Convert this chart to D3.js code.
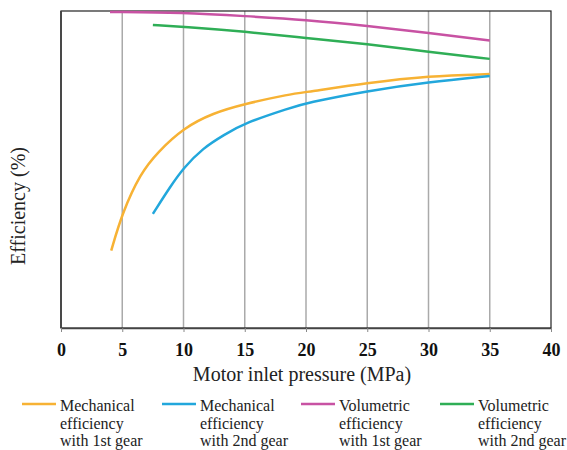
<!DOCTYPE html>
<html><head><meta charset="utf-8">
<script src="https://cdn.jsdelivr.net/npm/d3@7"></script>
<style>body{margin:0;background:#fff}svg{display:block}text{font-family:"Liberation Serif","Times New Roman",serif}</style>
</head><body>
<svg id="c" width="567" height="450"></svg>
<script>
const xTicks = [0,5,10,15,20,25,30,35,40];
const mech1P = [4.1,5,6.5,7.9,10,12.4,15,18.7,20,25,30,35];
const mech1V = [24.4,36.3,48.9,55.5,63.1,67.8,70.7,73.8,74.4,77.3,79.5,80.1];
const mech2P = [7.5,8.9,10,11.6,13.3,15,18.7,20,25,30,35];
const mech2V = [36.0,44.5,50.5,56.8,60.9,64.7,69.4,71.0,74.8,77.6,79.5];
const vol1P = [4,10,15,20,25,30,35];
const vol1V = [99.7,99.5,98.4,97.2,95.3,93.1,90.7];
const vol2P = [7.5,10,15,20,25,30,35];
const vol2V = [95.6,95.0,93.5,91.5,89.6,87.1,84.9];
const seriesNames = [
  ["Mechanical","efficiency","with 1st gear"],
  ["Mechanical","efficiency","with 2nd gear"],
  ["Volumetric","efficiency","with 1st gear"],
  ["Volumetric","efficiency","with 2nd gear"]];
const colors = ["#f7b234","#22a7dc","#c852a3","#2fae56"];

const svg = d3.select("#c");
const L=61,R=551,T=11,B=328;
const x = d3.scaleLinear().domain([0,40]).range([L,R]);
const y = d3.scaleLinear().domain([0,100]).range([B,T]);

// grid
svg.append("g").selectAll("line").data(xTicks.filter(d=>d>0&&d<40)).join("line")
  .attr("x1",d=>x(d)).attr("x2",d=>x(d)).attr("y1",T).attr("y2",B)
  .attr("stroke","#aaa").attr("stroke-width",1.5);
// frame
svg.append("rect").attr("x",L).attr("y",T).attr("width",R-L).attr("height",B-T)
  .attr("fill","none").attr("stroke","#222").attr("stroke-width",1.2);
svg.append("line").attr("x1",L).attr("x2",L).attr("y1",T).attr("y2",B).attr("stroke","#444").attr("stroke-width",1.8);

// x axis
const ax = svg.append("g").attr("transform",`translate(0,${B})`)
  .call(d3.axisBottom(x).tickValues(xTicks).tickSize(4).tickPadding(11).tickSizeOuter(0));
ax.attr("font-family",null);
ax.select(".domain").attr("stroke","#444").attr("stroke-width",1.5);
ax.selectAll(".tick line").attr("stroke","#888");
ax.selectAll("text").attr("font-weight","bold")
  .attr("font-size",18).attr("fill","#111");

svg.append("text").attr("x",302).attr("y",381).attr("text-anchor","middle")
  .attr("font-size",20).attr("fill","#222")
  .text("Motor inlet pressure (MPa)");
svg.append("text").attr("transform","translate(25,206) rotate(-90)").attr("text-anchor","middle")
  .attr("font-size",20).attr("fill","#222")
  .text("Efficiency (%)");

const data = [[mech1P,mech1V],[mech2P,mech2V],[vol1P,vol1V],[vol2P,vol2V]];
const line = d3.line().x(d=>x(d[0])).y(d=>y(d[1])).curve(d3.curveBasis);
data.forEach((s,i)=>{
  const pts = s[0].map((p,j)=>[p,s[1][j]]);
  svg.append("path").attr("d",line(pts)).attr("fill","none")
    .attr("stroke",colors[i]).attr("stroke-width",2.5);
});

// legend
const lx = [22,162,301,440];
seriesNames.forEach((n,i)=>{
  const g = svg.append("g");
  g.append("line").attr("x1",lx[i]).attr("x2",lx[i]+34).attr("y1",404).attr("y2",404)
    .attr("stroke",colors[i]).attr("stroke-width",2.5);
  n.forEach((t,k)=>{
    g.append("text").attr("x",lx[i]+38).attr("y",411+k*17.5)
      .attr("font-size",16).attr("fill","#222").text(t);
  });
});
</script>
</body></html>
